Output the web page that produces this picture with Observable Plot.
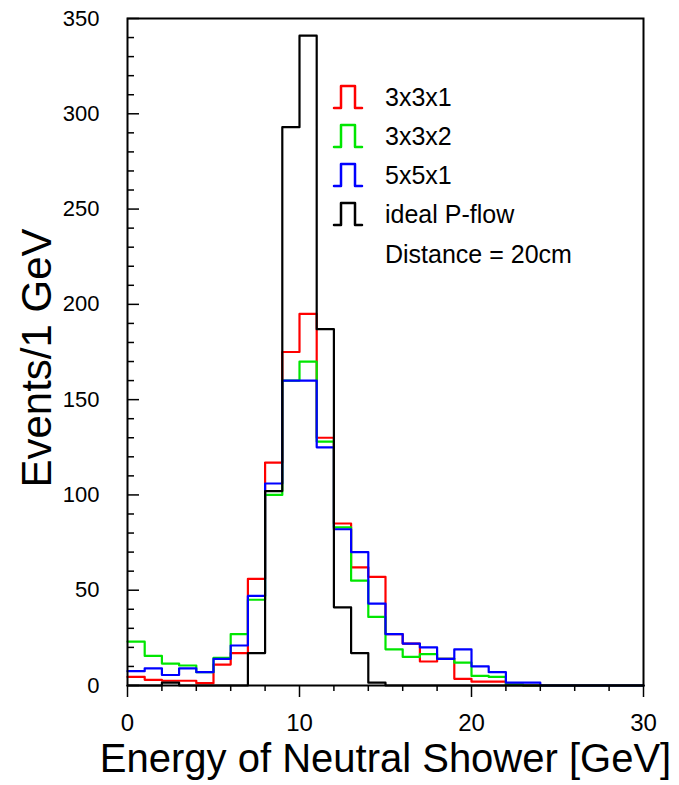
<!DOCTYPE html>
<html><head><meta charset="utf-8">
<script src="https://cdn.jsdelivr.net/npm/d3@7"></script>
<script src="https://cdn.jsdelivr.net/npm/@observablehq/plot@0.6"></script>
<style>html,body{margin:0;padding:0;background:#fff;}</style>
</head><body><div id="chart"></div>
<script>
// Bin low edges (1 GeV bins) and upper edge of the last bin
const binLow = [0,1,2,3,4,5,6,7,8,9,10,11,12,13,14,15,16,17,18,19,20,21,22,23,24,25,26,27,28,29];
const binTop = 30;

// Events per 1 GeV for each configuration
const red3x3x1   = [4.5,3,2.5,2.5,1.2,11,17,56,117,175,195,130,85,62,57,27,22,12.6,14,3.5,2,2,0.5,0,0,0,0,0,0,0];
const green3x3x2 = [23,15.5,11.5,10.5,7,14.5,27,45,100,160,170,128,83,55,36,19,15,16.5,14,12,5,4.5,0.5,0,0,0,0,0,0,0];
const blue5x5x1  = [7.5,9,5.5,9,7,14,21,47,106,160,160,125,82,70,43,27,22,20,14,19,10,7,1.5,1.5,0,0,0,0,0,0];
const idealPflow = [0,0,1.5,0,0,0,0,17,102,293,341,187,41,17,1.5,0,0,0,0,0,0,0,0,0,0,0,0,0,0,0];

const seriesNames  = ["3x3x1","3x3x2","5x5x1","ideal P-flow"];
const seriesColors = ["#ff0000","#00e600","#0000ff","#000000"];
const seriesValues = [red3x3x1, green3x3x2, blue5x5x1, idealPflow];
const legendExtra  = "Distance = 20cm";

const xMajor = [0,10,20,30];
const xMinor = [2,4,6,8,12,14,16,18,22,24,26,28];
const yMajor = [0,50,100,150,200,250,300,350];
const yMinor = [10,20,30,40,60,70,80,90,110,120,130,140,160,170,180,190,210,220,230,240,260,270,280,290,310,320,330,340];
const xTitle = "Energy of Neutral Shower [GeV]";
const yTitle = "Events/1 GeV";

const font = "'Liberation Sans', Arial, Helvetica, sans-serif";

function stepRows(values) {
  const rows = binLow.map((x, i) => ({x, y: values[i]}));
  rows.push({x: binTop, y: values[values.length - 1]});
  return rows;
}

const histMarks = seriesValues.map((vals, k) =>
  Plot.line(stepRows(vals), {x: "x", y: "y", curve: "step-after", stroke: seriesColors[k], strokeWidth: 2.2})
);

const plot = Plot.plot({
  width: 679, height: 785,
  marginLeft: 127, marginRight: 36, marginTop: 18, marginBottom: 100,
  style: {fontFamily: font, background: "white", color: "black", overflow: "visible"},
  x: {domain: [0, 30]},
  y: {domain: [0, 350]},
  marks: [
    ...histMarks,
    Plot.frame({stroke: "black", strokeWidth: 2}),
    Plot.axisX({ticks: xMajor, tickSize: 12, tickFormat: () => "", label: null, strokeWidth: 1.5}),
    Plot.axisX({ticks: xMinor, tickSize: 6, tickFormat: () => "", label: null, strokeWidth: 1.5}),
    Plot.axisX({ticks: xMajor, tickSize: 0, tickPadding: 28, fontSize: 24, label: null}),
    Plot.axisY({ticks: yMajor, tickSize: 12, dx: 12, tickFormat: () => "", label: null, strokeWidth: 1.5}),
    Plot.axisY({ticks: yMinor, tickSize: 7, dx: 7, tickFormat: () => "", label: null, strokeWidth: 1.5}),
    Plot.axisY({ticks: yMajor, tickSize: 0, tickPadding: 28, fontSize: 22, label: null}),
    Plot.text([xTitle], {text: d => d, frameAnchor: "bottom", lineAnchor: "middle", textAnchor: "middle", dy: 74, fontSize: 40}),
    Plot.text([yTitle], {text: d => d, frameAnchor: "left", lineAnchor: "middle", textAnchor: "middle", rotate: -90, dx: -90, dy: 6, fontSize: 42})
  ]
});

// Legend (layout in pixels inside the frame)
const svg = d3.select(plot);
const lg = svg.append("g").attr("font-family", font).attr("font-size", 25)
  .attr("fill", "black").attr("text-anchor", "start");
const rowY = i => 97 + i * 39;
seriesNames.forEach((name, i) => {
  const cy = rowY(i);
  lg.append("path")
    .attr("d", `M334,${cy + 11}H341V${cy - 11}H355V${cy + 11}H362`)
    .attr("fill", "none").attr("stroke", seriesColors[i]).attr("stroke-width", 2.5)
    .attr("stroke-linejoin", "round").attr("stroke-linecap", "round");
  lg.append("text").attr("x", 385).attr("y", cy).attr("dy", "0.35em").text(name);
});
lg.append("text").attr("x", 385).attr("y", rowY(4) + 1).attr("dy", "0.35em").text(legendExtra);

document.getElementById("chart").appendChild(plot);
</script>
</body></html>
